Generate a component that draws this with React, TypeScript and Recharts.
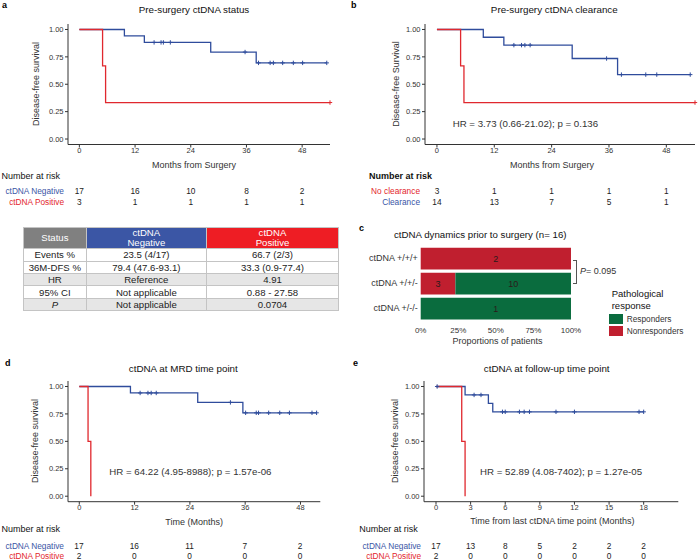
import React from "react";
import { LineChart, Line, XAxis, YAxis, BarChart, Bar, LabelList } from "recharts";

const FONT = '"Liberation Sans", Arial, Helvetica, sans-serif';
const BLUE = "#2f4c9c";
const RED = "#e0282e";
const TXT_BLUE = "#3a56a6";
const TXT_RED = "#e3262c";
const BAR_RED = "#c01f2f";
const BAR_GREEN = "#0a6c3e";
const INK = "#333333";

// a: pre-surgery ctDNA status
const aNegTimes = [0, 9.7, 14.0, 28.3, 38.1, 53.3];
const aNegSurv = [1, 0.941, 0.882, 0.794, 0.695, 0.695];
const aNegCens = [16.1, 17.6, 18.1, 19.6, 35.7, 38.6, 41.1, 41.8, 43.8, 46.1, 48.1, 53.3];
const aPosTimes = [0, 5.0, 5.65, 54];
const aPosSurv = [1, 0.667, 0.333, 0.333];
const aPosCens = [54];
const aRiskNeg = [17, 16, 10, 8, 2];
const aRiskPos = [3, 1, 1, 1, 1];

// b: pre-surgery ctDNA clearance
const bClrTimes = [0, 9.7, 14.0, 28.3, 37.8, 53.0];
const bClrSurv = [1, 0.929, 0.857, 0.735, 0.588, 0.588];
const bClrCens = [16.1, 17.7, 18.4, 19.5, 35.5, 38.6, 43.7, 46.0, 53.0];
const bNoTimes = [0, 4.95, 5.65, 54];
const bNoSurv = [1, 0.667, 0.333, 0.333];
const bNoCens = [54];
const bRiskNo = [3, 1, 1, 1, 1];
const bRiskClr = [14, 13, 7, 5, 1];

// d: MRD time point
const dNegTimes = [0, 11.1, 25.7, 35.5, 51.5];
const dNegSurv = [1, 0.941, 0.855, 0.76, 0.76];
const dNegCens = [13.2, 14.9, 15.6, 16.7, 32.8, 36.1, 38.4, 38.9, 41.1, 43.5, 45.6, 50.5, 51.5];
const dPosTimes = [0, 1.9, 2.5];
const dPosSurv = [1, 0.5, 0];
const dRiskNeg = [17, 16, 11, 7, 2];
const dRiskPos = [2, 0, 0, 0, 0];

// e: follow-up time point
const eNegTimes = [0, 2.52, 4.54, 4.92, 18.0];
const eNegSurv = [1, 0.923, 0.846, 0.769, 0.769];
const eNegCens = [0.1, 3.3, 3.9, 5.76, 6.0, 7.23, 7.64, 8.1, 10.4, 12.0, 17.6, 18.0];
const ePosTimes = [0, 2.23, 2.52];
const ePosSurv = [1, 0.5, 0];
const eRiskNeg = [17, 13, 8, 5, 2, 2, 2];
const eRiskPos = [2, 0, 0, 0, 0, 0, 0];

const monthTicks = [0, 12, 24, 36, 48];
const followTicks = [0, 3, 6, 9, 12, 15, 18];
const survTicks = [0, 0.25, 0.5, 0.75, 1];

// c: ctDNA dynamics
const dynCats = ["ctDNA +/+/+", "ctDNA +/+/-", "ctDNA +/-/-"];
const dynNonresp = [2, 3, 0];
const dynResp = [0, 10, 1];
const pctTicks = [0, 0.25, 0.5, 0.75, 1];

// summary table
const tblLabels = ["Events %", "36M-DFS %", "HR", "95% CI", "P"];
const tblNeg = ["23.5 (4/17)", "79.4 (47.6-93.1)", "Reference", "Not applicable", "Not applicable"];
const tblPos = ["66.7 (2/3)", "33.3 (0.9-77.4)", "4.91", "0.88 - 27.58", "0.0704"];
const tblShade = [false, false, true, false, true];

const steps = (times: number[], surv: number[]) => times.map((t, i) => ({ t, s: surv[i] }));
const survAt = (times: number[], surv: number[], x: number) => {
  let s = surv[0];
  times.forEach((t, i) => {
    if (t <= x) s = surv[i];
  });
  return s;
};
const censPts = (cens: number[], times: number[], surv: number[]) =>
  cens.map((t) => ({ t, s: survAt(times, surv, t) }));

type Box = { l: number; r: number; t: number; b: number };
type Curve = { times: number[]; surv: number[]; cens: number[]; color: string; name: string };

function T({ x, y, a = "start", size = 9, color = INK, bold = false, italic = false, children }: any) {
  const tx = a === "start" ? "0" : a === "middle" ? "-50%" : "-100%";
  return (
    <div
      style={{
        position: "absolute",
        left: x,
        top: y,
        transform: `translate(${tx}, -50%)`,
        fontSize: size,
        lineHeight: 1,
        color,
        fontWeight: bold ? "bold" : "normal",
        fontStyle: italic ? "italic" : "normal",
        whiteSpace: "nowrap",
      }}
    >
      {children}
    </div>
  );
}

function YTitle({ x, y, children }: any) {
  return (
    <div
      style={{
        position: "absolute",
        left: x,
        top: y,
        transform: "translate(-50%, -50%) rotate(-90deg)",
        fontSize: 9,
        lineHeight: 1,
        color: INK,
        whiteSpace: "nowrap",
      }}
    >
      {children}
    </div>
  );
}

const plus = (color: string) => (p: any) => (
  <path
    key={`c${p.index}`}
    d={`M${p.cx - 2.2},${p.cy}h4.4M${p.cx},${p.cy - 2.2}v4.4`}
    stroke={color}
    strokeWidth={1}
    fill="none"
  />
);

function KMPlot({ box, domain, ticks, curves }: { box: Box; domain: number[]; ticks: number[]; curves: Curve[] }) {
  const padL = 45, padT = 8, padR = 12, padB = 26, yW = 30, xH = 20;
  const width = box.r - box.l + padL + padR;
  const height = box.b - box.t + padT + padB;
  const tick = { fontSize: 7.5, fill: INK, fontFamily: FONT };
  return (
    <div style={{ position: "absolute", left: box.l - padL, top: box.t - padT }}>
      <LineChart width={width} height={height} margin={{ left: padL - yW, top: padT, right: padR, bottom: padB - xH }}>
        <XAxis
          dataKey="t"
          type="number"
          domain={domain}
          ticks={ticks}
          height={xH}
          tick={tick}
          tickSize={3}
          tickMargin={0}
          axisLine={{ stroke: INK }}
          tickLine={{ stroke: INK }}
          interval={0}
        />
        <YAxis
          type="number"
          domain={[-0.05, 1.05]}
          ticks={survTicks}
          width={yW}
          tick={tick}
          tickSize={3}
          tickMargin={1.5}
          axisLine={{ stroke: INK }}
          tickLine={{ stroke: INK }}
          tickFormatter={(v: number) => v.toFixed(2)}
          interval={0}
        />
        {curves.map((c) => (
          <Line
            key={c.name}
            data={steps(c.times, c.surv)}
            dataKey="s"
            type="stepAfter"
            stroke={c.color}
            strokeWidth={1.3}
            dot={false}
            activeDot={false}
            isAnimationActive={false}
          />
        ))}
        {curves.map((c) => (
          <Line
            key={c.name + "-cens"}
            data={censPts(c.cens, c.times, c.surv)}
            dataKey="s"
            stroke="none"
            dot={plus(c.color)}
            activeDot={false}
            isAnimationActive={false}
          />
        ))}
      </LineChart>
    </div>
  );
}

function Risk({ box, domain, ticks, titleX, titleY, bold, labelRight, rowYs, rows }: any) {
  const sx = (v: number) => box.l + ((v - domain[0]) / (domain[1] - domain[0])) * (box.r - box.l);
  return (
    <>
      <T x={titleX} y={titleY} size={9} color="#111" bold={bold}>Number at risk</T>
      {rows.map((r: any, i: number) => (
        <React.Fragment key={r.label}>
          <T x={labelRight} y={rowYs[i]} a="end" size={8.3} color={r.color}>{r.label}</T>
          {r.values.map((v: number, j: number) => (
            <T key={j} x={sx(ticks[j])} y={rowYs[i]} a="middle" size={8.3} color="#222">{v}</T>
          ))}
        </React.Fragment>
      ))}
    </>
  );
}

const A_BOX = { l: 68, r: 330, t: 23.5, b: 144 };
const B_BOX = { l: 425, r: 695, t: 23.5, b: 144 };
const D_BOX = { l: 67.7, r: 320, t: 380.8, b: 501.5 };
const E_BOX = { l: 424, r: 678.3, t: 380.8, b: 501.5 };
const A_DOM = [-2.45, 54];
const B_DOM = [-2.5, 54];
const D_DOM = [-2.45, 52.3];
const E_DOM = [-1.04, 21];

function SummaryTable() {
  const cell: React.CSSProperties = { border: "1px solid #c4c4c4", padding: 0, textAlign: "center", height: 11.4, lineHeight: "11px" };
  const head: React.CSSProperties = { ...cell, color: "#fff", height: 20.6, lineHeight: "10px" };
  return (
    <table
      style={{
        position: "absolute",
        left: 22.7,
        top: 226.7,
        width: 315.6,
        borderCollapse: "collapse",
        fontSize: 9.6,
        color: "#222",
        tableLayout: "fixed",
        fontFamily: FONT,
      }}
    >
      <colgroup>
        <col style={{ width: 63.3 }} />
        <col style={{ width: 119.7 }} />
        <col style={{ width: 132.6 }} />
      </colgroup>
      <tbody>
        <tr>
          <td style={{ ...head, background: "#808080" }}>Status</td>
          <td style={{ ...head, background: "#3b56a5" }}>ctDNA<br />Negative</td>
          <td style={{ ...head, background: "#ee1d24" }}>ctDNA<br />Positive</td>
        </tr>
        {tblLabels.map((lab, i) => (
          <tr key={lab} style={{ background: tblShade[i] ? "#e6e6e6" : "#fff" }}>
            <td style={{ ...cell, fontStyle: lab === "P" ? "italic" : "normal" }}>{lab}</td>
            <td style={cell}>{tblNeg[i]}</td>
            <td style={cell}>{tblPos[i]}</td>
          </tr>
        ))}
      </tbody>
    </table>
  );
}

const segLabel = (props: any) => {
  const { x, y, width, height, value } = props;
  const v = Array.isArray(value) ? value[1] - value[0] : value;
  if (!v || width < 1) return null;
  return (
    <text
      x={x + width / 2}
      y={y + height / 2}
      textAnchor="middle"
      dominantBaseline="central"
      fontSize={9}
      fill="#2a1a1a"
      fontFamily={FONT}
    >
      {v}
    </text>
  );
};

const catTick = (p: any) => (
  <text
    x={p.x}
    y={p.y}
    textAnchor="end"
    dominantBaseline="central"
    fontSize={9}
    fill={INK}
    fontFamily={FONT}
  >
    {p.payload.value}
  </text>
);

function Dynamics() {
  const data = dynCats.map((cat, i) => ({ cat, non: dynNonresp[i], resp: dynResp[i] }));
  const chartL = 350, chartT = 240;
  const plotL = 420.7, plotR = 571, plotT = 245.7, plotB = 320.7;
  const xH = 20, padR = 16;
  const tick = { fontSize: 8, fill: INK, fontFamily: FONT };
  return (
    <div style={{ position: "absolute", left: chartL, top: chartT }}>
      <BarChart
        width={plotR + padR - chartL}
        height={plotB - chartT + xH + 2}
        data={data}
        layout="vertical"
        stackOffset="expand"
        margin={{ left: 0, top: plotT - chartT, right: padR, bottom: 2 }}
      >
        <XAxis
          type="number"
          domain={[0, 1]}
          ticks={pctTicks}
          height={xH}
          axisLine={false}
          tickLine={false}
          tickSize={0}
          tickMargin={6.4}
          tick={tick}
          interval={0}
          tickFormatter={(v: number) => `${Math.round(v * 100)}%`}
        />
        <YAxis
          type="category"
          dataKey="cat"
          width={plotL - chartL}
          axisLine={false}
          tickLine={false}
          tickSize={0}
          tickMargin={3}
          tick={catTick}
          interval={0}
        />
        <Bar dataKey="non" stackId="s" fill={BAR_RED} barSize={21.7} isAnimationActive={false}>
          <LabelList dataKey="non" content={segLabel} />
        </Bar>
        <Bar dataKey="resp" stackId="s" fill={BAR_GREEN} barSize={21.7} isAnimationActive={false}>
          <LabelList dataKey="resp" content={segLabel} />
        </Bar>
      </BarChart>
    </div>
  );
}

export default function App() {
  return (
    <div
      style={{
        position: "absolute",
        left: 0,
        top: 0,
        width: 698,
        height: 560,
        overflow: "hidden",
        background: "#fff",
        fontFamily: FONT,
      }}
    >
      {/* panel a */}
      <T x={2} y={5} size={9} bold color="#000">a</T>
      <T x={194} y={10.3} a="middle" size={9.8} color="#111">Pre-surgery ctDNA status</T>
      <KMPlot
        box={A_BOX}
        domain={A_DOM}
        ticks={monthTicks}
        curves={[
          { name: "neg", times: aNegTimes, surv: aNegSurv, cens: aNegCens, color: BLUE },
          { name: "pos", times: aPosTimes, surv: aPosSurv, cens: aPosCens, color: RED },
        ]}
      />
      <YTitle x={36} y={83.5}>Disease-free survival</YTitle>
      <T x={194} y={164.5} a="middle" size={9}>Months from Surgery</T>
      <Risk
        box={A_BOX}
        domain={A_DOM}
        ticks={monthTicks}
        titleX={1.5}
        titleY={176}
        labelRight={64}
        rowYs={[191, 201.7]}
        rows={[
          { label: "ctDNA Negative", color: TXT_BLUE, values: aRiskNeg },
          { label: "ctDNA Positive", color: TXT_RED, values: aRiskPos },
        ]}
      />

      {/* panel b */}
      <T x={351} y={5} size={9} bold color="#000">b</T>
      <T x={554.3} y={10.3} a="middle" size={9.8} color="#111">Pre-surgery ctDNA clearance</T>
      <KMPlot
        box={B_BOX}
        domain={B_DOM}
        ticks={monthTicks}
        curves={[
          { name: "clr", times: bClrTimes, surv: bClrSurv, cens: bClrCens, color: BLUE },
          { name: "no", times: bNoTimes, surv: bNoSurv, cens: bNoCens, color: RED },
        ]}
      />
      <YTitle x={395.7} y={83.5}>Disease-free Survival</YTitle>
      <T x={552} y={164.5} a="middle" size={9}>Months from Surgery</T>
      <T x={452.7} y={124.3} size={9.7}>HR = 3.73 (0.66-21.02); p = 0.136</T>
      <Risk
        box={B_BOX}
        domain={B_DOM}
        ticks={monthTicks}
        titleX={369}
        titleY={176}
        bold
        labelRight={420}
        rowYs={[191, 201.7]}
        rows={[
          { label: "No clearance", color: TXT_RED, values: bRiskNo },
          { label: "Clearance", color: TXT_BLUE, values: bRiskClr },
        ]}
      />

      {/* table */}
      <SummaryTable />

      {/* panel c */}
      <T x={359} y={228} size={9} bold color="#000">c</T>
      <T x={480.3} y={235} a="middle" size={9.7} color="#111">ctDNA dynamics prior to surgery (n= 16)</T>
      <Dynamics />
      <T x={497.5} y={340.7} a="middle" size={9}>Proportions of patients</T>
      <div
        style={{
          position: "absolute",
          left: 572.5,
          top: 260,
          width: 3,
          height: 22,
          borderTop: "1px solid #555",
          borderRight: "1px solid #555",
          borderBottom: "1px solid #555",
        }}
      />
      <T x={580} y={271} size={9}>
        <i>P</i>= 0.095
      </T>
      <T x={611.7} y={294} size={9.5} color="#111">Pathological</T>
      <T x={611.7} y={305.5} size={9.5} color="#111">response</T>
      <div style={{ position: "absolute", left: 609, top: 314, width: 13.7, height: 10, background: BAR_GREEN }} />
      <div style={{ position: "absolute", left: 609, top: 326, width: 13.7, height: 10, background: BAR_RED }} />
      <T x={626.7} y={319} size={8.3}>Responders</T>
      <T x={626.7} y={331} size={8.3}>Nonresponders</T>

      {/* panel d */}
      <T x={5} y={363} size={9} bold color="#000">d</T>
      <T x={183.3} y={369.3} a="middle" size={9.8} color="#111">ctDNA at MRD time point</T>
      <KMPlot
        box={D_BOX}
        domain={D_DOM}
        ticks={monthTicks}
        curves={[
          { name: "neg", times: dNegTimes, surv: dNegSurv, cens: dNegCens, color: BLUE },
          { name: "pos", times: dPosTimes, surv: dPosSurv, cens: [], color: RED },
        ]}
      />
      <YTitle x={35} y={441}>Disease-free survival</YTitle>
      <T x={194.2} y={521.7} a="middle" size={9}>Time (Months)</T>
      <T x={109.3} y={471.7} size={9.7}>HR = 64.22 (4.95-8988); p = 1.57e-06</T>
      <Risk
        box={D_BOX}
        domain={D_DOM}
        ticks={monthTicks}
        titleX={1.5}
        titleY={529}
        labelRight={64}
        rowYs={[545.7, 555.7]}
        rows={[
          { label: "ctDNA Negative", color: TXT_BLUE, values: dRiskNeg },
          { label: "ctDNA Positive", color: TXT_RED, values: dRiskPos },
        ]}
      />

      {/* panel e */}
      <T x={353} y={363} size={9} bold color="#000">e</T>
      <T x={546.7} y={369.3} a="middle" size={9.8} color="#111">ctDNA at follow-up time point</T>
      <KMPlot
        box={E_BOX}
        domain={E_DOM}
        ticks={followTicks}
        curves={[
          { name: "neg", times: eNegTimes, surv: eNegSurv, cens: eNegCens, color: BLUE },
          { name: "pos", times: ePosTimes, surv: ePosSurv, cens: [], color: RED },
        ]}
      />
      <YTitle x={395} y={441}>Disease-free survival</YTitle>
      <T x={552.3} y={521} a="middle" size={9}>Time from last ctDNA time point (Months)</T>
      <T x={480} y={471.7} size={9.7}>HR = 52.89 (4.08-7402); p = 1.27e-05</T>
      <Risk
        box={E_BOX}
        domain={E_DOM}
        ticks={followTicks}
        titleX={359.3}
        titleY={529.3}
        labelRight={421}
        rowYs={[545.7, 555.7]}
        rows={[
          { label: "ctDNA Negative", color: TXT_BLUE, values: eRiskNeg },
          { label: "ctDNA Positive", color: TXT_RED, values: eRiskPos },
        ]}
      />
    </div>
  );
}
